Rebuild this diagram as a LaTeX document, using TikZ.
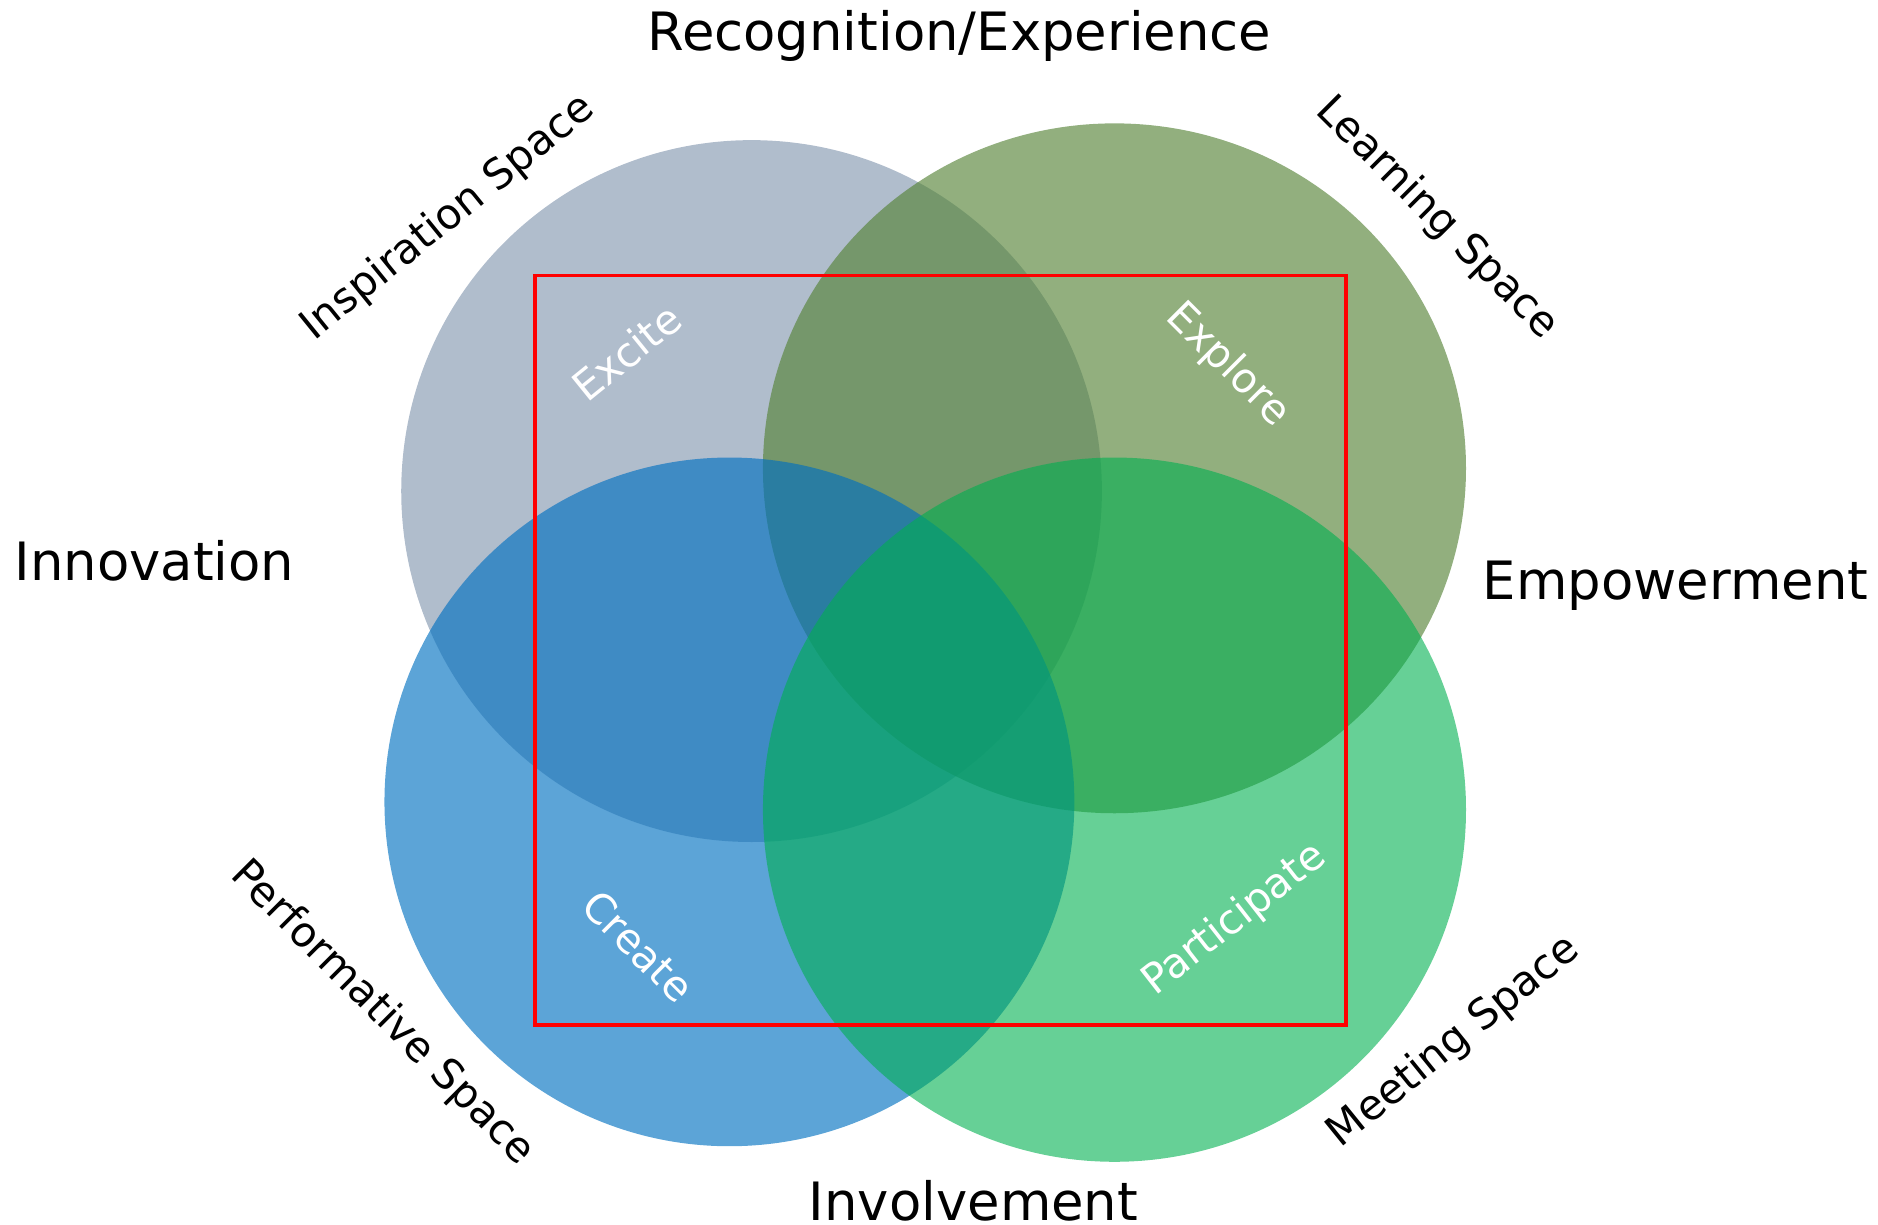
\documentclass[tikz,border=0pt]{standalone}
\usepackage{fontspec}
\setmainfont{DejaVu Sans}
\definecolor{cgray}{HTML}{8497B0}
\definecolor{colive}{HTML}{548235}
\definecolor{cblue}{HTML}{0070C0}
\definecolor{cgreen}{HTML}{00B050}
\definecolor{cred}{HTML}{FF0000}
\tikzset{
  bigtxt/.style={font=\fontsize{25.1}{30}\selectfont, inner sep=0pt, text=black},
  smalltxt/.style={font=\fontsize{19.9}{23}\selectfont, inner sep=0pt, text=black},
  wtxt/.style={font=\fontsize{19.6}{23}\selectfont, inner sep=0pt, text=white},
  frame/.style={draw=cred, line width=0.066cm}
}
\begin{document}
\begin{tikzpicture}[x=0.02cm,y=-0.02cm]
\useasboundingbox (0,0) rectangle (1568,1022);
% circles
\fill[cgray, fill opacity=0.64] (627.5,410) ellipse [x radius=292.5, y radius=293];
\fill[colive, fill opacity=0.64] (930.5,391) ellipse [x radius=293.5, y radius=288];
\fill[cblue, fill opacity=0.64] (609,669.5) ellipse [x radius=288, y radius=287.5];
\fill[cgreen, fill opacity=0.6] (930.5,676) ellipse [x radius=293.5, y radius=294];
% red frame
\draw[frame] (447,230) rectangle (1124,856);
% main labels
\node[bigtxt, anchor=base] (rec) at (801,42) {Recognition/Experience};
\node[bigtxt, anchor=base] (inn) at (129,485) {Innovation};
\node[bigtxt, anchor=base] (emp) at (1399,500.5) {Empowerment};
\node[bigtxt, anchor=base] (inv) at (812.8,1019) {Involvement};
% space labels
\node[smalltxt, rotate=39] (insp) at (374,182) {Inspiration Space};
\node[smalltxt, rotate=-45] (learn) at (1200,182) {Learning Space};
\node[smalltxt, rotate=-45] (perf) at (319,846) {Performative Space};
\node[smalltxt, rotate=39] (meet) at (1214,870) {Meeting Space};
% inner labels
\node[wtxt, rotate=39] (excite) at (523,294) {Excite};
\node[wtxt, rotate=-45] (explore) at (1025,305) {Explore};
\node[wtxt, rotate=-45] (create) at (533,790) {Create};
\node[wtxt, rotate=38] (part) at (1031,768) {Participate};
\end{tikzpicture}
\end{document}
